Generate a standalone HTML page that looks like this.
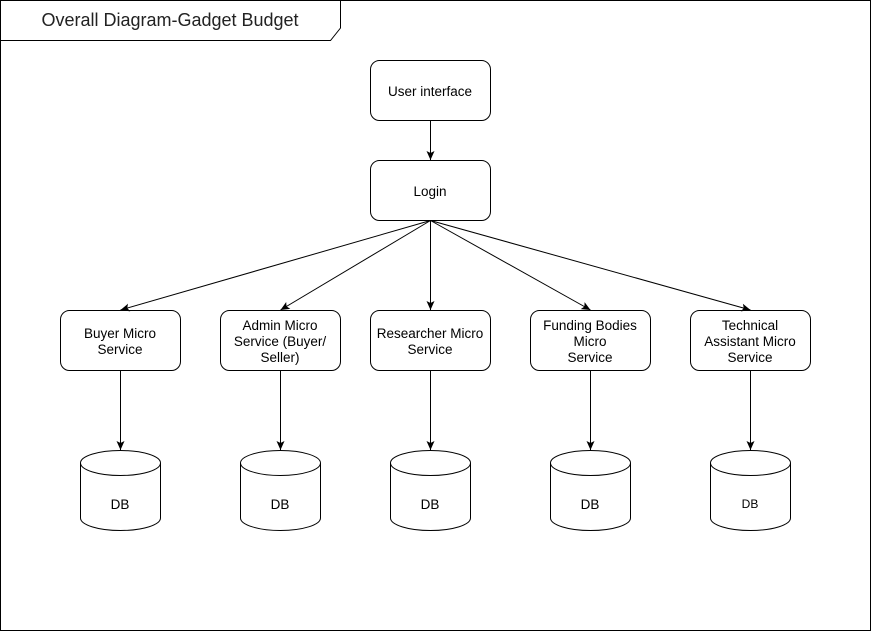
<!DOCTYPE html>
<html><head><style>body{margin:0;background:#fff}svg{display:block}text{font-family:"Liberation Sans",Arial,sans-serif;font-size:13.5px;fill:#000}</style></head><body>
<svg width="871" height="631" viewBox="0 0 871 631">
<defs><marker id="a" markerWidth="12" markerHeight="12" refX="10" refY="6" orient="auto" markerUnits="userSpaceOnUse"><path d="M1,2 L10,6 L1,10 L3,6 Z" fill="#000"/></marker></defs>
<rect x="0.5" y="0.5" width="870" height="630" fill="#fff" stroke="#000"/>
<path d="M0.5,0.5 H340.5 V28 L330.5,40.5 H0.5" fill="none" stroke="#000"/>
<text x="170" y="26" text-anchor="middle" style="font-size:18px;fill:#222">Overall Diagram-Gadget Budget</text>
<g fill="#fff" stroke="#000">
<rect x="370.5" y="60.5" width="120" height="60" rx="9"/>
<rect x="370.5" y="160.5" width="120" height="60" rx="9"/>
<rect x="60.5" y="310.5" width="120" height="60" rx="9"/>
<rect x="220.5" y="310.5" width="120" height="60" rx="9"/>
<rect x="370.5" y="310.5" width="120" height="60" rx="9"/>
<rect x="530.5" y="310.5" width="120" height="60" rx="9"/>
<rect x="690.5" y="310.5" width="120" height="60" rx="9"/>
</g>
<g stroke="#000" fill="none" marker-end="url(#a)">
<line x1="430.5" y1="120.5" x2="430.5" y2="160"/>
<line x1="430.5" y1="220.5" x2="120.5" y2="310"/>
<line x1="430.5" y1="220.5" x2="280.5" y2="310"/>
<line x1="430.5" y1="220.5" x2="430.5" y2="310"/>
<line x1="430.5" y1="220.5" x2="590.5" y2="310"/>
<line x1="430.5" y1="220.5" x2="750.5" y2="310"/>
<line x1="120.5" y1="370.5" x2="120.5" y2="450"/>
<line x1="280.5" y1="370.5" x2="280.5" y2="450"/>
<line x1="430.5" y1="370.5" x2="430.5" y2="450"/>
<line x1="590.5" y1="370.5" x2="590.5" y2="450"/>
<line x1="750.5" y1="370.5" x2="750.5" y2="450"/>
</g>
<g fill="#fff" stroke="#000">
<path d="M80.5,463 A40,12.5 0 0 1 160.5,463 V518 A40,12.5 0 0 1 80.5,518 Z"/><path d="M80.5,463 A40,12.5 0 0 0 160.5,463" fill="none"/>
<path d="M240.5,463 A40,12.5 0 0 1 320.5,463 V518 A40,12.5 0 0 1 240.5,518 Z"/><path d="M240.5,463 A40,12.5 0 0 0 320.5,463" fill="none"/>
<path d="M390.5,463 A40,12.5 0 0 1 470.5,463 V518 A40,12.5 0 0 1 390.5,518 Z"/><path d="M390.5,463 A40,12.5 0 0 0 470.5,463" fill="none"/>
<path d="M550.5,463 A40,12.5 0 0 1 630.5,463 V518 A40,12.5 0 0 1 550.5,518 Z"/><path d="M550.5,463 A40,12.5 0 0 0 630.5,463" fill="none"/>
<path d="M710.5,463 A40,12.5 0 0 1 790.5,463 V518 A40,12.5 0 0 1 710.5,518 Z"/><path d="M710.5,463 A40,12.5 0 0 0 790.5,463" fill="none"/>
</g>
<g text-anchor="middle">
<text x="430" y="96">User interface</text>
<text x="430" y="196">Login</text>
<text x="120" y="338">Buyer Micro</text><text x="120" y="354">Service</text>
<text x="280" y="330">Admin Micro</text><text x="280" y="346">Service (Buyer/</text><text x="280" y="362">Seller)</text>
<text x="430" y="338">Researcher Micro</text><text x="430" y="354">Service</text>
<text x="590" y="330">Funding Bodies</text><text x="590" y="346">Micro</text><text x="590" y="362">Service</text>
<text x="750" y="330">Technical</text><text x="750" y="346">Assistant Micro</text><text x="750" y="362">Service</text>
<text x="120" y="509">DB</text><text x="280" y="509">DB</text><text x="430" y="509">DB</text><text x="590" y="509">DB</text><text x="750" y="508" style="font-size:12px">DB</text>
</g>
</svg>
</body></html>
